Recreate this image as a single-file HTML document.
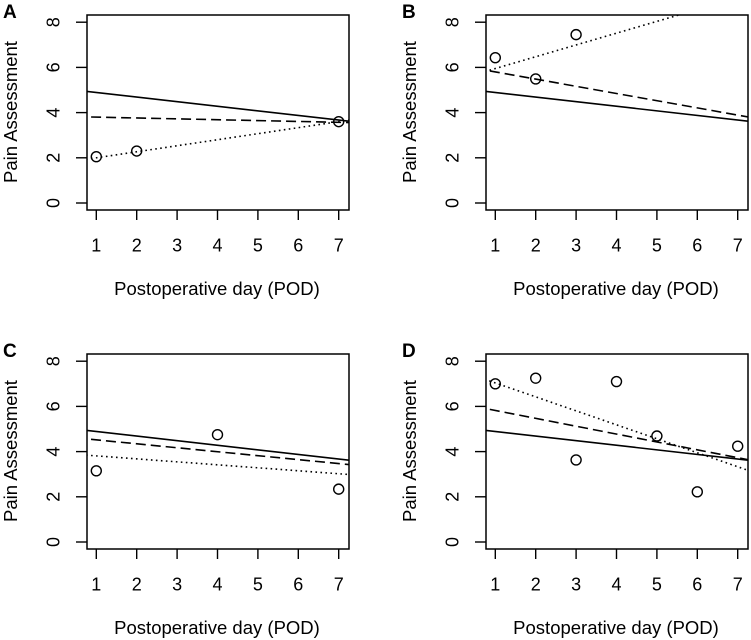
<!DOCTYPE html>
<html><head><meta charset="utf-8"><style>
html,body{margin:0;padding:0;background:#fff;}
svg{display:block;font-family:"Liberation Sans",Arial,sans-serif;}
</style></head><body>
<svg id="chart" width="751" height="640" viewBox="0 0 751 640" xmlns="http://www.w3.org/2000/svg"></svg>
<script>
const panelLabels = ["A","B","C","D"];
const xTicks = [1,2,3,4,5,6,7];
const yTicks = [0,2,4,6,8];
// points per panel
const ptsA_x = [1,2,7];       const ptsA_y = [2.05,2.3,3.6];
const ptsB_x = [1,2,3];       const ptsB_y = [6.43,5.49,7.45];
const ptsC_x = [1,4,7];       const ptsC_y = [3.15,4.75,2.34];
const ptsD_x = [1,2,3,4,5,6,7]; const ptsD_y = [7.0,7.25,3.63,7.1,4.69,2.22,4.24];
// line values at x=1 and x=7: solid (population), dashed, dotted
const solidLine = [4.89,3.67];
const dashedA = [3.80,3.57]; const dottedA = [2.0,3.6];
const dashedB = [5.80,3.89]; const dottedB = [5.95,9.08];
const dashedC = [4.52,3.47]; const dottedC = [3.81,3.02];
const dashedD = [5.82,3.73]; const dottedD = [7.04,3.33];

const NS="http://www.w3.org/2000/svg";
const svg=document.getElementById('chart');
function mk(tag,attrs,parent){const e=document.createElementNS(NS,tag);for(const k in attrs)e.setAttribute(k,attrs[k]);(parent||svg).appendChild(e);return e;}

const panels=[
 {ox:0,oy:0,px:ptsA_x,py:ptsA_y,dash:dashedA,dot:dottedA},
 {ox:399,oy:0,px:ptsB_x,py:ptsB_y,dash:dashedB,dot:dottedB},
 {ox:0,oy:339,px:ptsC_x,py:ptsC_y,dash:dashedC,dot:dottedC},
 {ox:399,oy:339,px:ptsD_x,py:ptsD_y,dash:dashedD,dot:dottedD}
];
panels.forEach((p,i)=>{
  const g=mk('g',{transform:`translate(${p.ox},${p.oy})`});
  
  
  const X=v=>96.3+(v-1)*40.4, Y=v=>203-v*22.6;
  const cp=mk('clipPath',{id:'clip'+i},g);
  mk('rect',{x:87,y:15,width:262,height:195},cp);
  const lbl=mk('text',{x:3,y:18,'font-size':19,'font-weight':'bold'},g);lbl.textContent=panelLabels[i];
  
  
  const box=mk('rect',{x:87,y:15,width:262,height:195,fill:'none',stroke:'#000','stroke-width':1.5},g);
  
  
  yTicks.forEach(v=>{
    mk('line',{x1:76,x2:87,y1:Y(v),y2:Y(v),stroke:'#000','stroke-width':1.4},g);
    const t=mk('text',{transform:`translate(59.5,${Y(v)}) rotate(-90)`,'text-anchor':'middle','font-size':18},g);t.textContent=v;
    
    
  });
  xTicks.forEach(v=>{
    mk('line',{x1:X(v),x2:X(v),y1:210,y2:220,stroke:'#000','stroke-width':1.4},g);
    const t=mk('text',{x:X(v),y:251.5,'text-anchor':'middle','font-size':18},g);t.textContent=v;
    
    
  });
  const xt=mk('text',{x:217,y:295,'text-anchor':'middle','font-size':18.5},g);xt.textContent='Postoperative day (POD)';
  
  
  const yt=mk('text',{transform:'translate(17,112) rotate(-90)','text-anchor':'middle','font-size':18.5},g);yt.textContent='Pain Assessment';
  
  
  const lines=mk('g',{'clip-path':`url(#clip${i})`},g);
  function ln(vals,da,name){
    const s=(vals[1]-vals[0])/6, f=x=>vals[0]+s*(x-1);
    const l=mk('line',{x1:X(0.5),y1:Y(f(0.5)),x2:X(7.5),y2:Y(f(7.5)),stroke:'#000','stroke-width':1.6,'stroke-dasharray':da},lines);
    
    
  }
  ln(solidLine,'none','population-fit-line');
  ln(p.dash,'10 5','dashed-fit-line');
  ln(p.dot,'1.6 3.4','dotted-fit-line');
  p.px.forEach((x,j)=>{
    const c=mk('circle',{cx:X(x),cy:Y(p.py[j]),r:5,fill:'none',stroke:'#000','stroke-width':1.4},g);
    
    
  });
});
</script>
</body></html>
